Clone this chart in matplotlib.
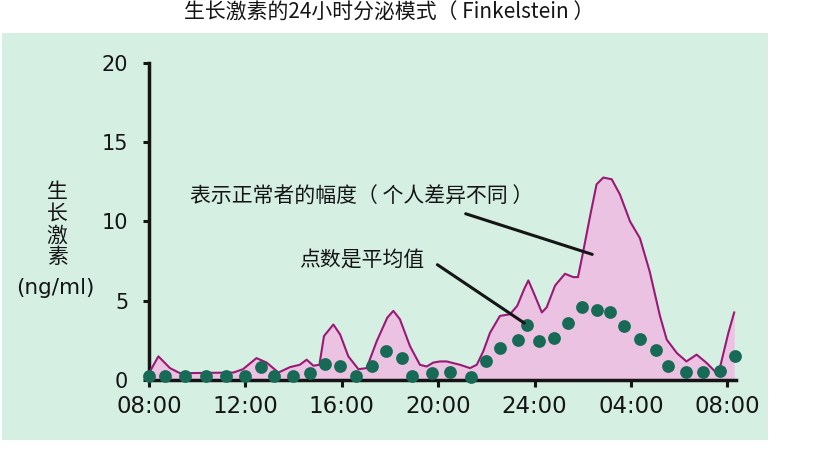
import matplotlib
matplotlib.use('Agg')
import matplotlib.pyplot as plt
from matplotlib.patches import Rectangle

# --- data (hours after 08:00, ng/ml) ---
dot_hours = [0.0, 0.66, 1.5, 2.35, 3.2, 4.0, 4.66, 5.2, 5.96, 6.68, 7.3, 7.92,
             8.6, 9.27, 9.84, 10.5, 10.9, 11.73, 12.5, 13.35, 13.98, 14.56,
             15.3, 15.67, 16.2, 16.8, 17.37, 17.95, 18.57, 19.13, 19.72,
             20.37, 21.04, 21.55, 22.3, 22.99, 23.7, 24.3]
dot_values = [0.25, 0.25, 0.22, 0.22, 0.22, 0.22, 0.85, 0.25, 0.22, 0.43, 1.0,
              0.9, 0.22, 0.9, 1.85, 1.36, 0.25, 0.43, 0.49, 0.2, 1.17, 2.0,
              2.55, 3.45, 2.45, 2.66, 3.6, 4.6, 4.4, 4.3, 3.4, 2.6, 1.87, 0.9,
              0.53, 0.49, 0.57, 1.5]

upper_hours = [0.0, 0.39, 0.87, 1.28, 2.5, 3.5, 3.9, 4.46, 4.88, 5.37, 5.85,
               6.26, 6.54, 6.82, 7.07, 7.26, 7.65, 7.93, 8.27, 8.69, 9.03,
               9.45, 9.89, 10.14, 10.41, 10.83, 11.24, 11.52, 11.8, 12.07,
               12.35, 12.9, 13.32, 13.6, 13.87, 14.15, 14.56, 14.98, 15.28,
               15.57, 15.74, 15.95, 16.3, 16.5, 16.85, 17.26, 17.6, 17.8, 18.0,
               18.3, 18.57, 18.85, 19.2, 19.54, 19.96, 20.37, 20.78, 21.2,
               21.48, 21.9, 22.3, 22.72, 23.14, 23.49, 23.7, 24.04, 24.28]
upper_values = [0.43, 1.49, 0.75, 0.43, 0.45, 0.47, 0.68, 1.38, 1.1, 0.47, 0.81,
                0.96, 1.28, 0.9, 0.96, 2.77, 3.5, 2.87, 1.49, 0.68, 0.75, 2.45,
                3.94, 4.36, 3.83, 2.13, 0.96, 0.85, 1.1, 1.17, 1.17, 0.96, 0.75,
                0.96, 1.81, 2.98, 4.04, 4.15, 4.68, 5.75, 6.28, 5.54, 4.26,
                4.58, 5.96, 6.7, 6.49, 6.49, 7.98, 10.33, 12.34, 12.77, 12.66,
                11.7, 10.0, 8.94, 6.81, 4.04, 2.55, 1.7, 1.17, 1.6, 1.07, 0.53,
                0.85, 2.98, 4.26]

xtick_hours = [0, 4, 8, 12, 16, 20, 24]
xtick_labels = ['08:00', '12:00', '16:00', '20:00', '24:00', '04:00', '08:00']
ytick_values = [0, 5, 10, 15, 20]

CJK = ['Noto Sans CJK SC', 'DejaVu Sans']
BG = '#d5efe3'
PINK = '#ecc2e2'
MAGENTA = '#991a74'
DOT = '#176a55'
INK = '#151515'

fig = plt.figure(figsize=(8.2, 4.69), dpi=100)
fig.patch.set_facecolor('white')

# mint panel behind the chart
fig.patches.append(Rectangle((0.003, 0.062), 0.934, 0.868, transform=fig.transFigure,
                             facecolor=BG, edgecolor='none', zorder=-5))

ax = fig.add_axes([0.1817, 0.1898, 0.716, 0.676])
ax.set_facecolor('none')
ax.set_zorder(2)

ax.fill_between(upper_hours, 0, upper_values, color=PINK, lw=0, zorder=2)
ax.plot(upper_hours, upper_values, color=MAGENTA, lw=1.5, zorder=3)
ax.plot(dot_hours, dot_values, 'o', color=DOT, ms=9.2, mec='none',
        clip_on=False, zorder=5)

ax.set_xlim(0, 24.36)
ax.set_ylim(0, 20)
ax.set_xticks(xtick_hours)
ax.set_xticklabels(xtick_labels)
ax.set_yticks(ytick_values)
for s in ['top', 'right']:
    ax.spines[s].set_visible(False)
for s in ['left', 'bottom']:
    ax.spines[s].set_linewidth(2.5)
    ax.spines[s].set_color(INK)
ax.spines['bottom'].set_zorder(4)
ax.tick_params(axis='x', length=5, width=2.2, pad=6, labelsize=16.5,
               colors=INK)
ax.tick_params(axis='y', length=4, width=2.2, pad=11, labelsize=15,
               colors=INK)

# title
fig.text(0.474, 0.972, '生长激素的24小时分泌模式（ Finkelstein ）', family=CJK,
         fontsize=15, weight='medium', ha='center', va='center', color=INK)

# y label, stacked characters
for i, ch in enumerate('生长激素'):
    fig.text(57 / 820, 1 - (192 + i * 21.7) / 469, ch, family=CJK, fontsize=15,
             weight='medium', ha='center', va='center', color=INK)
fig.text(55 / 820, 1 - 288 / 469, '(ng/ml)', fontsize=15.5, ha='center',
         va='center', color=INK)

# annotations
ax.text(8.82, 11.56, '表示正常者的幅度（ 个人差异不同 ）', family=CJK, fontsize=15,
        weight='medium', ha='center', va='center', color=INK, zorder=6)
ax.text(8.82, 7.62, '点数是平均值', family=CJK, fontsize=15, weight='medium',
        ha='center', va='center', color=INK, zorder=6)
ax.annotate('', xy=(18.5, 7.87), xytext=(13.03, 10.54),
            arrowprops=dict(arrowstyle='-', color=INK, lw=2.2), zorder=6)
ax.annotate('', xy=(15.67, 3.49), xytext=(11.87, 7.37),
            arrowprops=dict(arrowstyle='-', color=INK, lw=2.2), zorder=6)

fig.savefig('out.png', dpi=100, facecolor='white')
